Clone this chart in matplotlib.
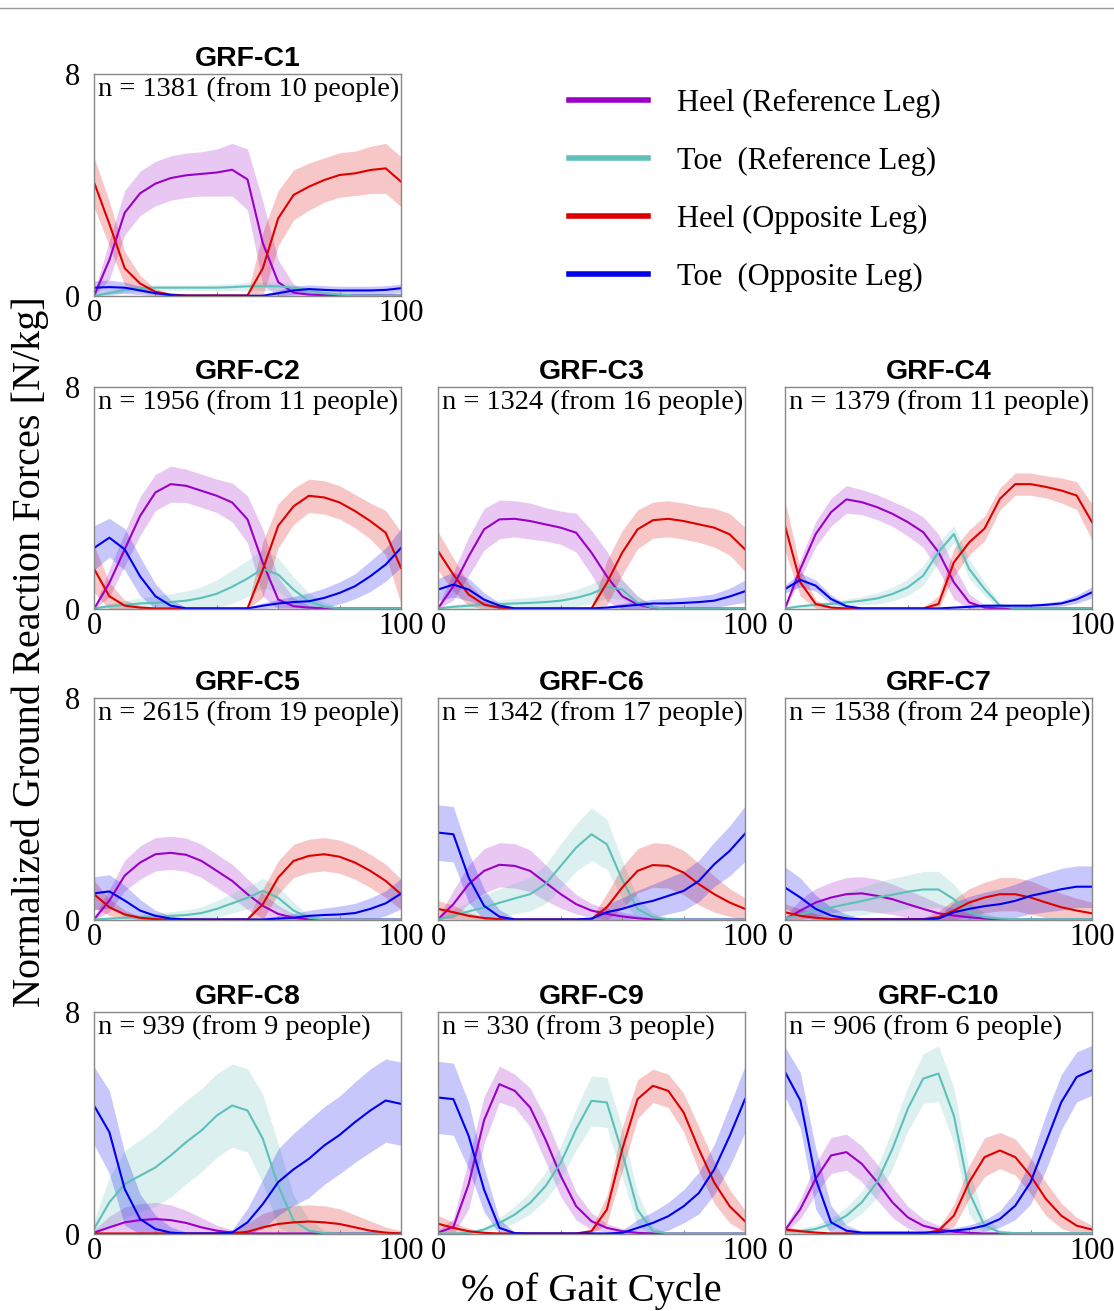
import numpy as np
import matplotlib
matplotlib.use("Agg")
import matplotlib.pyplot as plt
from matplotlib.lines import Line2D

# ================= DATA =================
# % of gait cycle sample points
pct = list(range(0, 101, 5))

panel_names = ["GRF-C1", "GRF-C2", "GRF-C3", "GRF-C4", "GRF-C5",
               "GRF-C6", "GRF-C7", "GRF-C8", "GRF-C9", "GRF-C10"]
n_trials = [1381, 1956, 1324, 1379, 2615, 1342, 1538, 939, 330, 906]
n_people = [10, 11, 16, 11, 19, 17, 24, 9, 3, 6]

# mean curves, one row per panel (C1..C10)
heel_ref = [
    [0, 1.3, 3.0, 3.7, 4.05, 4.25, 4.35, 4.4, 4.45, 4.55, 4.2, 1.9, 0.5, 0.12, 0.05, 0.03, 0.02, 0.02, 0.02, 0.02, 0.02],
    [0, 0.94, 2.15, 3.35, 4.2, 4.5, 4.44, 4.26, 4.08, 3.84, 3.23, 1.66, 0.34, 0.1, 0.05, 0.02, 0.02, 0.02, 0.02, 0.02, 0.02],
    [0.02, 0.82, 1.9, 2.87, 3.23, 3.25, 3.17, 3.05, 2.93, 2.75, 2.03, 1.18, 0.46, 0.16, 0.04, 0.02, 0.02, 0.02, 0.02, 0.02, 0.02],
    [0.02, 1.44, 2.7, 3.49, 3.95, 3.85, 3.67, 3.43, 3.13, 2.77, 2.05, 0.96, 0.24, 0.05, 0.02, 0.02, 0.02, 0.02, 0.02, 0.02, 0.02],
    [0.02, 0.7, 1.6, 2.07, 2.37, 2.42, 2.35, 2.13, 1.77, 1.41, 0.93, 0.51, 0.22, 0.08, 0.02, 0.02, 0.02, 0.02, 0.02, 0.02, 0.02],
    [0.02, 0.57, 1.29, 1.77, 1.99, 1.95, 1.77, 1.35, 0.93, 0.57, 0.34, 0.22, 0.13, 0.06, 0.02, 0.02, 0.02, 0.02, 0.02, 0.02, 0.02],
    [0.02, 0.34, 0.63, 0.81, 0.93, 0.96, 0.87, 0.75, 0.57, 0.4, 0.24, 0.16, 0.1, 0.05, 0.02, 0.02, 0.02, 0.02, 0.02, 0.02, 0.02],
    [0.05, 0.24, 0.42, 0.5, 0.54, 0.5, 0.4, 0.24, 0.12, 0.05, 0.02, 0.02, 0.02, 0.02, 0.02, 0.02, 0.02, 0.02, 0.02, 0.02, 0.02],
    [0.05, 0.25, 1.8, 4.1, 5.4, 5.16, 4.56, 3.41, 2.09, 1.0, 0.46, 0.22, 0.1, 0.04, 0.02, 0.02, 0.02, 0.02, 0.02, 0.02, 0.02],
    [0.14, 0.9, 1.99, 2.83, 2.95, 2.53, 1.87, 1.14, 0.6, 0.3, 0.16, 0.08, 0.04, 0.02, 0.02, 0.02, 0.02, 0.02, 0.02, 0.02, 0.02],
]
heel_ref_sd = [
    [0.1, 0.7, 0.8, 0.8, 0.8, 0.8, 0.8, 0.8, 0.85, 0.95, 1.1, 1.5, 0.8, 0.3, 0.1, 0.05, 0.05, 0.05, 0.05, 0.05, 0.05],
    [0.05, 0.5, 0.6, 0.7, 0.65, 0.65, 0.6, 0.6, 0.6, 0.7, 0.85, 1.2, 0.8, 0.3, 0.08, 0.05, 0.05, 0.05, 0.05, 0.05, 0.05],
    [0.1, 0.5, 0.7, 0.75, 0.7, 0.65, 0.65, 0.6, 0.6, 0.7, 0.8, 0.9, 0.6, 0.3, 0.1, 0.03, 0.03, 0.03, 0.03, 0.03, 0.03],
    [0.1, 0.35, 0.45, 0.5, 0.5, 0.45, 0.45, 0.45, 0.5, 0.55, 0.65, 0.6, 0.3, 0.1, 0.03, 0.03, 0.03, 0.03, 0.03, 0.03, 0.03],
    [0.1, 0.4, 0.55, 0.6, 0.6, 0.6, 0.6, 0.6, 0.6, 0.6, 0.55, 0.45, 0.3, 0.15, 0.05, 0.03, 0.03, 0.03, 0.03, 0.03, 0.03],
    [0.05, 0.5, 0.7, 0.8, 0.8, 0.8, 0.75, 0.65, 0.5, 0.35, 0.25, 0.2, 0.15, 0.1, 0.05, 0.03, 0.03, 0.03, 0.03, 0.03, 0.03],
    [0.1, 0.4, 0.5, 0.55, 0.6, 0.6, 0.6, 0.55, 0.5, 0.45, 0.35, 0.25, 0.15, 0.1, 0.05, 0.03, 0.03, 0.03, 0.03, 0.03, 0.03],
    [0.1, 0.4, 0.55, 0.6, 0.6, 0.55, 0.45, 0.35, 0.2, 0.1, 0.05, 0.03, 0.03, 0.03, 0.03, 0.03, 0.03, 0.03, 0.03, 0.03, 0.03],
    [0.1, 0.3, 0.9, 0.85, 0.65, 0.6, 0.7, 0.8, 0.75, 0.5, 0.3, 0.15, 0.1, 0.05, 0.03, 0.03, 0.03, 0.03, 0.03, 0.03, 0.03],
    [0.1, 0.35, 0.55, 0.65, 0.65, 0.65, 0.65, 0.55, 0.4, 0.25, 0.15, 0.08, 0.05, 0.03, 0.03, 0.03, 0.03, 0.03, 0.03, 0.03, 0.03],
]

toe_ref = [
    [0, 0.1, 0.22, 0.28, 0.3, 0.3, 0.3, 0.3, 0.3, 0.32, 0.35, 0.35, 0.35, 0.3, 0.2, 0.1, 0.05, 0.02, 0.02, 0.02, 0.02],
    [0.02, 0.1, 0.15, 0.2, 0.22, 0.25, 0.3, 0.4, 0.55, 0.8, 1.1, 1.45, 1.24, 0.7, 0.28, 0.08, 0.02, 0.02, 0.02, 0.02, 0.02],
    [0.02, 0.08, 0.12, 0.15, 0.18, 0.2, 0.22, 0.25, 0.3, 0.4, 0.55, 0.8, 0.7, 0.22, 0.05, 0.02, 0.02, 0.02, 0.02, 0.02, 0.02],
    [0.02, 0.1, 0.15, 0.18, 0.24, 0.3, 0.38, 0.54, 0.78, 1.2, 2.05, 2.7, 1.44, 0.72, 0.12, 0.02, 0.02, 0.02, 0.02, 0.02, 0.02],
    [0.02, 0.05, 0.08, 0.1, 0.12, 0.15, 0.18, 0.25, 0.4, 0.6, 0.8, 1.05, 0.8, 0.34, 0.08, 0.02, 0.02, 0.02, 0.02, 0.02, 0.02],
    [0.02, 0.15, 0.31, 0.45, 0.62, 0.78, 0.93, 1.29, 1.95, 2.61, 3.09, 2.73, 1.45, 0.4, 0.1, 0.03, 0.02, 0.02, 0.02, 0.02, 0.02],
    [0.05, 0.2, 0.34, 0.45, 0.57, 0.68, 0.81, 0.91, 1.02, 1.1, 1.1, 0.75, 0.28, 0.1, 0.05, 0.03, 0.03, 0.03, 0.03, 0.03, 0.03],
    [0.18, 1.14, 1.8, 2.1, 2.4, 2.83, 3.31, 3.73, 4.27, 4.63, 4.45, 3.43, 1.74, 0.48, 0.12, 0.03, 0.02, 0.02, 0.02, 0.02, 0.02],
    [0.02, 0.02, 0.04, 0.16, 0.4, 0.7, 1.12, 1.72, 2.57, 3.78, 4.8, 4.74, 2.93, 0.88, 0.1, 0.02, 0.02, 0.02, 0.02, 0.02, 0.02],
    [0.1, 0.1, 0.18, 0.36, 0.66, 1.14, 1.87, 3.07, 4.51, 5.6, 5.78, 4.27, 1.5, 0.3, 0.06, 0.03, 0.03, 0.03, 0.03, 0.03, 0.03],
]
toe_ref_sd = [
    [0.05, 0.1, 0.1, 0.1, 0.1, 0.1, 0.1, 0.1, 0.12, 0.12, 0.15, 0.15, 0.15, 0.12, 0.1, 0.08, 0.05, 0.03, 0.03, 0.03, 0.03],
    [0.05, 0.1, 0.15, 0.2, 0.25, 0.3, 0.35, 0.4, 0.5, 0.6, 0.65, 0.7, 0.6, 0.45, 0.3, 0.15, 0.05, 0.03, 0.03, 0.03, 0.03],
    [0.05, 0.08, 0.1, 0.12, 0.15, 0.18, 0.2, 0.22, 0.25, 0.3, 0.35, 0.4, 0.35, 0.25, 0.08, 0.03, 0.03, 0.03, 0.03, 0.03, 0.03],
    [0.03, 0.05, 0.08, 0.1, 0.12, 0.15, 0.2, 0.25, 0.3, 0.35, 0.35, 0.3, 0.35, 0.25, 0.1, 0.03, 0.03, 0.03, 0.03, 0.03, 0.03],
    [0.05, 0.05, 0.08, 0.1, 0.12, 0.15, 0.18, 0.22, 0.3, 0.35, 0.4, 0.45, 0.4, 0.3, 0.1, 0.03, 0.03, 0.03, 0.03, 0.03, 0.03],
    [0.05, 0.2, 0.35, 0.45, 0.5, 0.55, 0.6, 0.7, 0.8, 0.85, 0.95, 0.9, 0.7, 0.4, 0.15, 0.05, 0.02, 0.02, 0.02, 0.02, 0.02],
    [0.05, 0.15, 0.25, 0.35, 0.45, 0.5, 0.55, 0.6, 0.6, 0.65, 0.65, 0.55, 0.35, 0.15, 0.05, 0.03, 0.03, 0.03, 0.03, 0.03, 0.03],
    [0.3, 0.9, 1.2, 1.3, 1.4, 1.5, 1.5, 1.5, 1.5, 1.5, 1.5, 1.6, 1.5, 0.9, 0.4, 0.1, 0.05, 0.05, 0.05, 0.05, 0.1],
    [0.03, 0.03, 0.03, 0.1, 0.2, 0.3, 0.4, 0.5, 0.6, 0.75, 0.9, 0.9, 0.9, 0.6, 0.15, 0.03, 0.03, 0.03, 0.03, 0.03, 0.03],
    [0.1, 0.1, 0.15, 0.2, 0.3, 0.4, 0.55, 0.7, 0.8, 0.9, 1.0, 1.0, 0.8, 0.3, 0.1, 0.05, 0.03, 0.03, 0.03, 0.03, 0.03],
]

heel_opp = [
    [4.1, 2.6, 1.0, 0.45, 0.15, 0.05, 0.02, 0.02, 0.02, 0.02, 0.02, 1.0, 2.8, 3.64, 3.94, 4.18, 4.36, 4.42, 4.54, 4.6, 4.12],
    [1.45, 0.46, 0.12, 0.05, 0.02, 0.02, 0.02, 0.02, 0.02, 0.02, 0.02, 1.42, 3.0, 3.7, 4.08, 4.02, 3.84, 3.53, 3.17, 2.75, 1.48],
    [2.09, 1.24, 0.52, 0.16, 0.05, 0.02, 0.02, 0.02, 0.02, 0.02, 0.02, 0.94, 2.03, 2.87, 3.2, 3.25, 3.17, 3.05, 2.93, 2.69, 2.15],
    [3.0, 0.96, 0.18, 0.05, 0.02, 0.02, 0.02, 0.02, 0.02, 0.02, 0.18, 1.68, 2.4, 2.9, 3.97, 4.5, 4.5, 4.4, 4.27, 4.09, 3.13],
    [0.93, 0.46, 0.2, 0.08, 0.03, 0.02, 0.02, 0.02, 0.02, 0.02, 0.02, 0.57, 1.53, 2.13, 2.31, 2.37, 2.28, 2.07, 1.77, 1.41, 0.93],
    [0.4, 0.28, 0.15, 0.07, 0.03, 0.02, 0.02, 0.02, 0.02, 0.02, 0.02, 0.46, 1.17, 1.77, 1.98, 1.95, 1.71, 1.29, 0.93, 0.63, 0.4],
    [0.28, 0.15, 0.08, 0.03, 0.03, 0.03, 0.03, 0.03, 0.03, 0.03, 0.1, 0.34, 0.63, 0.81, 0.93, 0.93, 0.81, 0.63, 0.46, 0.34, 0.24],
    [0.02, 0.02, 0.02, 0.02, 0.02, 0.02, 0.02, 0.02, 0.02, 0.02, 0.08, 0.24, 0.36, 0.42, 0.45, 0.42, 0.36, 0.24, 0.12, 0.05, 0.02],
    [0.37, 0.22, 0.1, 0.04, 0.02, 0.02, 0.02, 0.02, 0.02, 0.02, 0.1, 0.88, 3.05, 4.86, 5.34, 5.16, 4.38, 3.05, 1.85, 1.0, 0.46],
    [0.16, 0.1, 0.05, 0.02, 0.02, 0.02, 0.02, 0.02, 0.02, 0.02, 0.12, 0.66, 1.87, 2.77, 3.01, 2.77, 2.1, 1.26, 0.66, 0.3, 0.16],
]
heel_opp_sd = [
    [0.9, 0.8, 0.6, 0.3, 0.1, 0.05, 0.05, 0.05, 0.05, 0.05, 0.05, 1.3, 1.0, 0.9, 0.85, 0.8, 0.8, 0.8, 0.85, 0.9, 0.9],
    [0.85, 0.5, 0.2, 0.08, 0.03, 0.03, 0.03, 0.03, 0.03, 0.03, 0.05, 1.0, 0.8, 0.65, 0.6, 0.6, 0.6, 0.6, 0.65, 0.8, 1.3],
    [0.7, 0.6, 0.4, 0.2, 0.05, 0.03, 0.03, 0.03, 0.03, 0.03, 0.05, 0.8, 0.8, 0.7, 0.65, 0.65, 0.65, 0.65, 0.7, 0.75, 0.8],
    [0.9, 0.5, 0.15, 0.05, 0.03, 0.03, 0.03, 0.03, 0.03, 0.03, 0.3, 0.5, 0.45, 0.45, 0.4, 0.4, 0.4, 0.4, 0.45, 0.5, 0.65],
    [0.5, 0.3, 0.15, 0.05, 0.03, 0.03, 0.03, 0.03, 0.03, 0.03, 0.05, 0.55, 0.6, 0.6, 0.6, 0.6, 0.6, 0.6, 0.6, 0.6, 0.55],
    [0.3, 0.25, 0.12, 0.05, 0.03, 0.03, 0.03, 0.03, 0.03, 0.03, 0.05, 0.5, 0.75, 0.8, 0.8, 0.8, 0.8, 0.75, 0.65, 0.5, 0.4],
    [0.3, 0.25, 0.15, 0.08, 0.05, 0.05, 0.05, 0.05, 0.05, 0.05, 0.2, 0.4, 0.5, 0.55, 0.6, 0.6, 0.6, 0.55, 0.5, 0.45, 0.4],
    [0.03, 0.03, 0.03, 0.03, 0.03, 0.03, 0.03, 0.03, 0.03, 0.1, 0.3, 0.5, 0.55, 0.6, 0.6, 0.6, 0.55, 0.45, 0.35, 0.2, 0.1],
    [0.3, 0.2, 0.1, 0.05, 0.03, 0.03, 0.03, 0.03, 0.03, 0.03, 0.1, 0.5, 0.8, 0.7, 0.6, 0.6, 0.7, 0.8, 0.75, 0.6, 0.4],
    [0.1, 0.08, 0.05, 0.03, 0.03, 0.03, 0.03, 0.03, 0.03, 0.03, 0.1, 0.4, 0.6, 0.7, 0.65, 0.65, 0.65, 0.6, 0.45, 0.3, 0.15],
]

toe_opp = [
    [0.3, 0.32, 0.3, 0.2, 0.1, 0.03, 0.01, 0.01, 0.01, 0.01, 0.01, 0.01, 0.1, 0.2, 0.25, 0.22, 0.2, 0.2, 0.2, 0.22, 0.28],
    [2.2, 2.57, 2.15, 1.18, 0.46, 0.12, 0.02, 0.02, 0.02, 0.02, 0.02, 0.12, 0.2, 0.25, 0.28, 0.4, 0.58, 0.82, 1.18, 1.6, 2.2],
    [0.7, 0.88, 0.7, 0.34, 0.12, 0.02, 0.02, 0.02, 0.02, 0.02, 0.02, 0.05, 0.1, 0.15, 0.2, 0.2, 0.22, 0.25, 0.3, 0.45, 0.64],
    [0.72, 1.05, 0.84, 0.36, 0.1, 0.02, 0.02, 0.02, 0.02, 0.02, 0.02, 0.05, 0.08, 0.12, 0.12, 0.12, 0.12, 0.15, 0.2, 0.35, 0.6],
    [0.96, 1.03, 0.7, 0.34, 0.15, 0.05, 0.02, 0.02, 0.02, 0.02, 0.02, 0.02, 0.05, 0.08, 0.15, 0.18, 0.2, 0.25, 0.4, 0.6, 0.95],
    [3.15, 3.09, 1.53, 0.51, 0.12, 0.02, 0.02, 0.02, 0.02, 0.02, 0.05, 0.28, 0.4, 0.57, 0.69, 0.87, 1.05, 1.41, 2.01, 2.49, 3.11],
    [1.17, 0.81, 0.4, 0.16, 0.06, 0.02, 0.02, 0.02, 0.02, 0.02, 0.05, 0.28, 0.4, 0.5, 0.57, 0.69, 0.87, 0.99, 1.11, 1.2, 1.2],
    [4.63, 3.67, 1.62, 0.54, 0.18, 0.05, 0.02, 0.02, 0.02, 0.05, 0.42, 1.08, 1.87, 2.33, 2.71, 3.19, 3.57, 4.03, 4.45, 4.81, 4.69],
    [4.92, 4.86, 3.53, 1.6, 0.22, 0.03, 0.02, 0.02, 0.02, 0.02, 0.02, 0.02, 0.04, 0.22, 0.4, 0.64, 1.0, 1.48, 2.33, 3.53, 4.86],
    [5.84, 4.81, 1.99, 0.42, 0.12, 0.05, 0.05, 0.05, 0.05, 0.05, 0.06, 0.12, 0.18, 0.3, 0.54, 1.02, 1.87, 3.31, 4.75, 5.66, 5.9],
]
toe_opp_sd = [
    [0.25, 0.25, 0.2, 0.15, 0.1, 0.05, 0.03, 0.03, 0.03, 0.03, 0.03, 0.05, 0.1, 0.15, 0.15, 0.15, 0.15, 0.15, 0.15, 0.15, 0.15],
    [0.8, 0.7, 0.75, 0.7, 0.45, 0.2, 0.05, 0.03, 0.03, 0.03, 0.05, 0.1, 0.15, 0.2, 0.3, 0.35, 0.4, 0.45, 0.55, 0.6, 0.7],
    [0.4, 0.45, 0.4, 0.25, 0.1, 0.03, 0.03, 0.03, 0.03, 0.03, 0.03, 0.05, 0.1, 0.12, 0.15, 0.18, 0.2, 0.22, 0.25, 0.3, 0.4],
    [0.15, 0.25, 0.2, 0.15, 0.05, 0.03, 0.03, 0.03, 0.03, 0.03, 0.03, 0.03, 0.05, 0.05, 0.05, 0.05, 0.05, 0.08, 0.1, 0.15, 0.2],
    [0.6, 0.6, 0.55, 0.4, 0.2, 0.1, 0.03, 0.03, 0.03, 0.03, 0.03, 0.03, 0.1, 0.15, 0.2, 0.25, 0.3, 0.35, 0.4, 0.45, 0.55],
    [1.0, 1.0, 0.9, 0.6, 0.25, 0.05, 0.03, 0.03, 0.03, 0.03, 0.05, 0.3, 0.4, 0.5, 0.6, 0.65, 0.7, 0.75, 0.8, 0.9, 1.0],
    [0.75, 0.7, 0.5, 0.3, 0.15, 0.05, 0.03, 0.03, 0.03, 0.03, 0.1, 0.35, 0.45, 0.5, 0.55, 0.6, 0.65, 0.7, 0.75, 0.75, 0.75],
    [1.4, 1.5, 1.3, 0.9, 0.5, 0.2, 0.05, 0.05, 0.05, 0.1, 0.5, 0.9, 1.2, 1.3, 1.4, 1.4, 1.4, 1.45, 1.5, 1.5, 1.5],
    [1.3, 1.3, 1.2, 0.8, 0.3, 0.05, 0.03, 0.03, 0.03, 0.03, 0.03, 0.03, 0.1, 0.3, 0.4, 0.5, 0.6, 0.75, 0.9, 1.1, 1.2],
    [0.9, 1.0, 1.1, 0.6, 0.2, 0.05, 0.05, 0.05, 0.05, 0.05, 0.05, 0.1, 0.15, 0.2, 0.3, 0.5, 0.8, 1.0, 1.0, 0.9, 0.9],
]

labels = ["Heel (Reference Leg)", "Toe  (Reference Leg)",
          "Heel (Opposite Leg)", "Toe  (Opposite Leg)"]
colors = ["#9A00C8", "#5FBFBA", "#DD0000", "#0000EE"]

SERIF = ["Liberation Serif", "DejaVu Serif"]
SANS = ["Liberation Sans", "DejaVu Sans"]

# ================= FIGURE =================
W, H = 1114, 1311
fig = plt.figure(figsize=(W / 100, H / 100), dpi=100)

col_left = [94, 438, 785]
row_top = [74, 387, 698, 1012]
ax_w, ax_h = 307, 222

# panel slots: C1 alone in first row, then 3 per row
slots = [(0, 0), (1, 0), (1, 1), (1, 2), (2, 0), (2, 1), (2, 2),
         (3, 0), (3, 1), (3, 2)]

x = np.array(pct)
series = [(heel_ref, heel_ref_sd), (toe_ref, toe_ref_sd),
          (heel_opp, heel_opp_sd), (toe_opp, toe_opp_sd)]

for k, (r, c) in enumerate(slots):
    rect = [col_left[c] / W, 1 - (row_top[r] + ax_h) / H, ax_w / W, ax_h / H]
    ax = fig.add_axes(rect)

    for (mean, sd), col in zip(series, colors):
        m = np.array(mean[k])
        s = np.array(sd[k])
        ax.fill_between(x, np.clip(m - s, 0, None), m + s, color=col,
                        alpha=0.22, lw=0)
    for (mean, sd), col in zip(series, colors):
        ax.plot(x, mean[k], color=col, lw=1.5)

    ax.set_xlim(0, 100)
    ax.set_ylim(0, 8)
    ax.set_xticks([0, 100])
    ax.set_xticks([20, 40, 60, 80], minor=True)
    ax.set_yticks([0, 8])
    ax.tick_params(which="major", length=0, labelsize=22, pad=2)
    ax.tick_params(axis="y", pad=10)
    ax.tick_params(which="minor", axis="x", direction="in", length=3,
                   color="#888888", width=0.8)
    if c != 0:
        ax.set_yticklabels([])
    for lab in ax.get_xticklabels() + ax.get_yticklabels():
        lab.set_family(SERIF)
    for sp in ax.spines.values():
        sp.set_color("#888888")
        sp.set_linewidth(1.0)

    ax.set_title(panel_names[k], fontsize=20.5, fontweight="bold",
                 family=SANS, pad=6)
    ax.text(0.012, 0.985, f"n = {n_trials[k]} (from {n_people[k]} people)",
            transform=ax.transAxes, ha="left", va="top", fontsize=20.5,
            family=SERIF)

# legend
handles = [Line2D([], [], color=col, lw=4) for col in colors]
fig.legend(handles, labels, loc="upper left",
           bbox_to_anchor=(541 / W, 1 - 61 / H), frameon=False,
           prop={"family": SERIF, "size": 22}, handlelength=2.6,
           handletextpad=0.95, labelspacing=0.95)

fig.text(30 / W, 1 - 652 / H, "Normalized Ground Reaction Forces [N/kg]",
         rotation=90, ha="center", va="center", fontsize=29, family=SERIF)
fig.text(591 / W, 1 - 1291 / H, "% of Gait Cycle", ha="center",
         va="center", fontsize=29, family=SERIF)

# thin rule along the top edge
fig.add_artist(Line2D([0, 1], [1 - 8 / H, 1 - 8 / H], color="#999999",
                      lw=1.0, transform=fig.transFigure))

fig.savefig("out.png", dpi=100)
